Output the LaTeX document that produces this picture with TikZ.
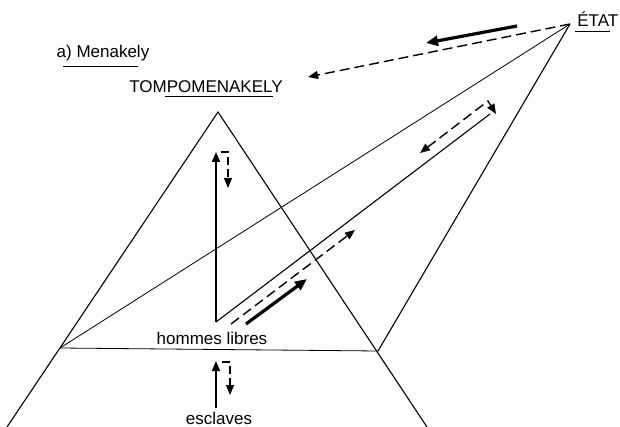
\documentclass[tikz,border=0pt]{standalone}
\usepackage{fontspec}
\setmainfont{Liberation Sans}
\usetikzlibrary{arrows.meta}
\tikzset{
  side/.style={draw=black,line width=0.55pt},
  faint/.style={draw=black,line width=0.4pt},
  flow/.style={draw=black,line width=0.8pt,-{Triangle[length=5pt,width=4pt]}},
  heavy flow/.style={draw=black,line width=1.6pt,-{Triangle[length=6pt,width=5pt]}},
  back flow/.style={draw=black,line width=0.7pt,dash pattern=on 5pt off 2.5pt,
    -{Triangle[length=5pt,width=4pt]}},
  label/.style={font=\fontsize{8.5}{10}\selectfont,inner sep=0pt},
  rule/.style={draw=black,line width=0.5pt}
}

\begin{document}
\begin{tikzpicture}[x=0.5pt,y=-0.5pt]
  \useasboundingbox (0,0) rectangle (620,427);
  % the pyramid and the lines to the state
  \coordinate (apex) at (218,112);
  \coordinate (baseL) at (60,348);
  \coordinate (baseR) at (378,351);
  \coordinate (footL) at (7,427);
  \coordinate (footR) at (427,427);
  \coordinate (etat) at (570,24);
  \coordinate (libres) at (216,322);
  \coordinate (ridge) at (490,114);
  \draw[side] (footL) -- (apex) -- (footR);
  \draw[faint] (baseL) -- (baseR);
  \draw[side] (baseR) -- (etat);
  \draw[faint] (baseL) -- (etat);
  \draw[side] (libres) -- (ridge);
  \coordinate (uptip) at (216,152);
  \draw[flow] (libres) -- (uptip);

  % labels
  \node[label] (menakely) at (103,53) {a) Menakely};
  \draw[rule] (63,67) -- (138,67);
  \node[label] (tompo) at (206,87) {TOMPOMENAKELY};
  \draw[rule] (165,97) -- (273,97);
  \node[label,anchor=west] (etatlbl) at (577,19) {ÉTAT};
  \draw[rule] (575,32) -- (610,32);
  \node[label] (hl) at (212,338) {hommes libres};
  \node[label] (escl) at (219,418) {esclaves};

  % flows
  \coordinate (tompoend) at (308,77);
  \draw[back flow] (etat) -- (tompoend);
  \coordinate (h1) at (517,26);
  \coordinate (h2) at (426,43);
  \draw[heavy flow] (h1) -- (h2);
  \coordinate (d1) at (231,324);
  \coordinate (d2) at (355,230);
  \draw[back flow] (d1) -- (d2);
  \coordinate (s1) at (246,324);
  \coordinate (s2) at (307,279);
  \draw[heavy flow] (s1) -- (s2);
  \coordinate (b1) at (420,153);
  \coordinate (b2) at (488,101);
  \coordinate (b3) at (496,114);
  \draw[back flow,{Triangle[length=5pt,width=4pt]}-{Triangle[length=5pt,width=4pt]}]
    (b1) -- (b2) -- (b3);
  \coordinate (t1) at (221,152);
  \coordinate (t2) at (228,152);
  \coordinate (t3) at (228,188);
  \draw[back flow,line width=0.6pt,dash pattern=on 4pt off 2pt] (t1) -- (t2) -- (t3);
  \coordinate (e1) at (216,408);
  \coordinate (e2) at (216,361);
  \draw[flow] (e1) -- (e2);
  \coordinate (f1) at (222,362);
  \coordinate (f2) at (230,362);
  \coordinate (f3) at (230,395);
  \draw[back flow,line width=0.6pt,dash pattern=on 4pt off 2pt] (f1) -- (f2) -- (f3);
\end{tikzpicture}
\end{document}
